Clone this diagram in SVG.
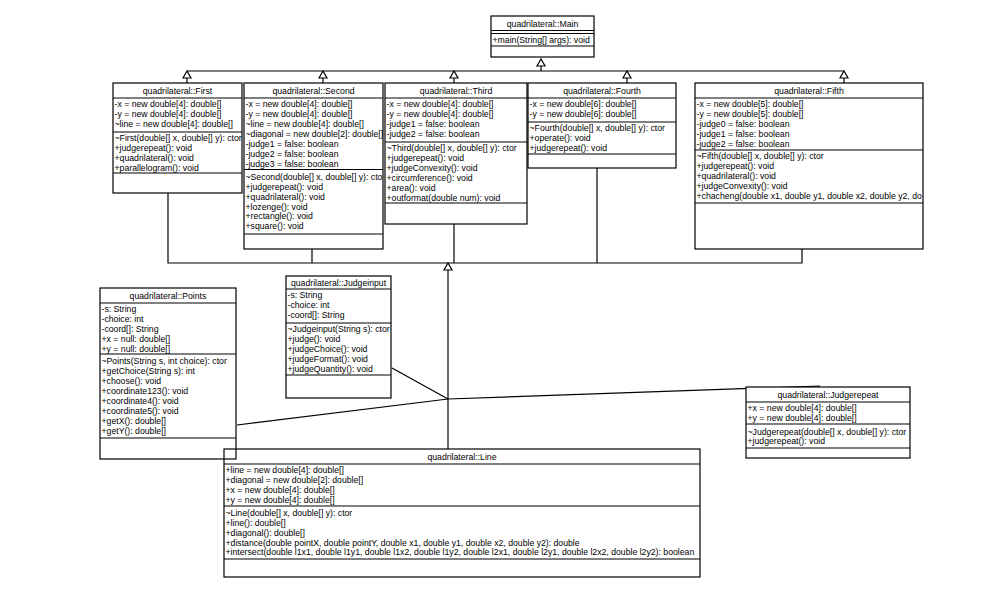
<svg xmlns="http://www.w3.org/2000/svg" width="1002" height="589" viewBox="0 0 1002 589">
<style>
.b{fill:#fff;stroke:#000;stroke-width:1.2}
.bn{fill:none;stroke:#000;stroke-width:1.2}
.d{stroke:#000;stroke-width:1.2}
text{font-family:"Liberation Sans",Arial,sans-serif;font-size:8.7px;fill:#000}
.t{text-anchor:middle}
.c{fill:none;stroke:#000;stroke-width:1.2}
.tri{fill:#fff;stroke:#000;stroke-width:1.2}
</style>
<defs>
<clipPath id="cFirst"><rect x="113" y="83" width="129" height="110"/></clipPath>
<clipPath id="cSecond"><rect x="244" y="83" width="139" height="166"/></clipPath>
<clipPath id="cFifth"><rect x="695" y="83" width="228" height="166"/></clipPath>
<clipPath id="cJudgeinput"><rect x="286" y="276" width="105" height="122"/></clipPath>
</defs>
<rect width="1002" height="589" fill="#fff"/>

<g id="connectors">
<line class="c" x1="187" y1="71" x2="844" y2="71"/>
<line class="c" x1="541" y1="66" x2="541" y2="71"/>
<polygon class="tri" points="541,59 537,66 545,66"/>
<line class="c" x1="187" y1="78" x2="187" y2="83"/>
<polygon class="tri" points="187,71 183,78 191,78"/>
<line class="c" x1="323" y1="78" x2="323" y2="83"/>
<polygon class="tri" points="323,71 319,78 327,78"/>
<line class="c" x1="454" y1="78" x2="454" y2="83"/>
<polygon class="tri" points="454,71 450,78 458,78"/>
<line class="c" x1="627" y1="78" x2="627" y2="83"/>
<polygon class="tri" points="627,71 623,78 631,78"/>
<line class="c" x1="844" y1="78" x2="844" y2="83"/>
<polygon class="tri" points="844,71 840,78 848,78"/>

<polyline class="c" points="168,193 168,263 802,263 802,249"/>
<line class="c" x1="312" y1="249" x2="312" y2="263"/>
<line class="c" x1="454" y1="224" x2="454" y2="263"/>
<line class="c" x1="597" y1="168" x2="597" y2="263"/>
<line class="c" x1="448" y1="270" x2="448" y2="449"/>
<polygon class="tri" points="448,263 444,270 452,270"/>

<line class="c" x1="392" y1="368" x2="448" y2="399"/>
<line class="c" x1="237" y1="425" x2="448" y2="399"/>
<line class="c" x1="448" y1="399" x2="820" y2="386"/>
</g>

<g id="Main">
<rect class="b" x="491" y="16" width="103" height="41"/>
<line class="d" x1="491" y1="30.5" x2="594" y2="30.5"/>
<line class="d" x1="491" y1="33.5" x2="594" y2="33.5"/>
<line class="d" x1="491" y1="46" x2="594" y2="46"/>
<text class="t" x="542.5" y="26.5">quadrilateral::Main</text>
<text x="492.5" y="42.5">+main(String[] args): void</text>
</g>

<g id="First">
<rect class="b" x="113" y="83" width="129" height="110"/>
<line class="d" x1="113" y1="98" x2="242" y2="98"/>
<line class="d" x1="113" y1="132" x2="242" y2="132"/>
<line class="d" x1="113" y1="173" x2="242" y2="173"/>
<text class="t" x="177.5" y="93.5">quadrilateral::First</text>
<g clip-path="url(#cFirst)">
<text x="114.5" y="107">-x = new double[4]: double[]</text>
<text x="114.5" y="117">-y = new double[4]: double[]</text>
<text x="114.5" y="127">~line = new double[4]: double[]</text>
<text x="114.5" y="141">~First(double[] x, double[] y): ctor</text>
<text x="114.5" y="151">+judgerepeat(): void</text>
<text x="114.5" y="161">+quadrilateral(): void</text>
<text x="114.5" y="171">+parallelogram(): void</text>
</g>
</g>

<g id="Second">
<rect class="b" x="244" y="83" width="139" height="166"/>
<line class="d" x1="244" y1="98" x2="383" y2="98"/>
<line class="d" x1="244" y1="169.5" x2="383" y2="169.5"/>
<line class="d" x1="244" y1="234" x2="383" y2="234"/>
<text class="t" x="313.5" y="93.5">quadrilateral::Second</text>
<g clip-path="url(#cSecond)">
<text x="245.5" y="107">-x = new double[4]: double[]</text>
<text x="245.5" y="117">-y = new double[4]: double[]</text>
<text x="245.5" y="127">~line = new double[4]: double[]</text>
<text x="245.5" y="137">~diagonal = new double[2]: double[]</text>
<text x="245.5" y="147">-judge1 = false: boolean</text>
<text x="245.5" y="157">-judge2 = false: boolean</text>
<text x="245.5" y="167">-judge3 = false: boolean</text>
<text x="245.5" y="180">~Second(double[] x, double[] y): ctor</text>
<text x="245.5" y="190">+judgerepeat(): void</text>
<text x="245.5" y="199.5">+quadrilateral(): void</text>
<text x="245.5" y="209.5">+lozenge(): void</text>
<text x="245.5" y="219">+rectangle(): void</text>
<text x="245.5" y="229">+square(): void</text>
</g>
</g>

<g id="Third">
<rect class="b" x="385" y="83" width="142" height="141"/>
<line class="d" x1="385" y1="98" x2="527" y2="98"/>
<line class="d" x1="385" y1="142" x2="527" y2="142"/>
<line class="d" x1="385" y1="203" x2="527" y2="203"/>
<text class="t" x="456" y="93.5">quadrilateral::Third</text>
<text x="386.5" y="107">-x = new double[4]: double[]</text>
<text x="386.5" y="117">-y = new double[4]: double[]</text>
<text x="386.5" y="127">-judge1 = false: boolean</text>
<text x="386.5" y="137">-judge2 = false: boolean</text>
<text x="386.5" y="151">~Third(double[] x, double[] y): ctor</text>
<text x="386.5" y="161">+judgerepeat(): void</text>
<text x="386.5" y="171">+judgeConvexity(): void</text>
<text x="386.5" y="181">+circumference(): void</text>
<text x="386.5" y="191">+area(): void</text>
<text x="386.5" y="200.5">+outformat(double num): void</text>
</g>

<g id="Fourth">
<rect class="b" x="528" y="83" width="148" height="85"/>
<line class="d" x1="528" y1="98" x2="676" y2="98"/>
<line class="d" x1="528" y1="122" x2="676" y2="122"/>
<line class="d" x1="528" y1="154" x2="676" y2="154"/>
<text class="t" x="602" y="93.5">quadrilateral::Fourth</text>
<text x="529.5" y="107">-x = new double[6]: double[]</text>
<text x="529.5" y="117">-y = new double[6]: double[]</text>
<text x="529.5" y="131">~Fourth(double[] x, double[] y): ctor</text>
<text x="529.5" y="141">+operate(): void</text>
<text x="529.5" y="151">+judgerepeat(): void</text>
</g>

<g id="Fifth">
<rect class="b" x="695" y="83" width="228" height="166"/>
<line class="d" x1="695" y1="98" x2="923" y2="98"/>
<line class="d" x1="695" y1="150" x2="923" y2="150"/>
<line class="d" x1="695" y1="203" x2="923" y2="203"/>
<text class="t" x="809" y="93.5">quadrilateral::Fifth</text>
<g clip-path="url(#cFifth)">
<text x="696.5" y="107">-x = new double[5]: double[]</text>
<text x="696.5" y="117">-y = new double[5]: double[]</text>
<text x="696.5" y="127">-judge0 = false: boolean</text>
<text x="696.5" y="137">-judge1 = false: boolean</text>
<text x="696.5" y="147">-judge2 = false: boolean</text>
<text x="696.5" y="159">~Fifth(double[] x, double[] y): ctor</text>
<text x="696.5" y="169">+judgerepeat(): void</text>
<text x="696.5" y="179">+quadrilateral(): void</text>
<text x="696.5" y="189">+judgeConvexity(): void</text>
<text x="696.5" y="199">+chacheng(double x1, double y1, double x2, double y2, do</text>
</g>
</g>

<g id="Judgeinput">
<rect class="b" x="286" y="276" width="105" height="122"/>
<line class="d" x1="286" y1="289" x2="391" y2="289"/>
<line class="d" x1="286" y1="323" x2="391" y2="323"/>
<line class="d" x1="286" y1="375" x2="391" y2="375"/>
<text class="t" x="338.5" y="286">quadrilateral::Judgeinput</text>
<g clip-path="url(#cJudgeinput)">
<text x="287.5" y="298">-s: String</text>
<text x="287.5" y="308">-choice: int</text>
<text x="287.5" y="318">-coord[]: String</text>
<text x="287.5" y="332">~Judgeinput(String s): ctor</text>
<text x="287.5" y="342">+judge(): void</text>
<text x="287.5" y="352">+judgeChoice(): void</text>
<text x="287.5" y="362">+judgeFormat(): void</text>
<text x="287.5" y="372">+judgeQuantity(): void</text>
</g>
</g>

<g id="Points">
<rect class="b" x="100" y="288" width="136" height="171"/>
<line class="d" x1="100" y1="303" x2="236" y2="303"/>
<line class="d" x1="100" y1="354" x2="236" y2="354"/>
<line class="d" x1="100" y1="438" x2="236" y2="438"/>
<text class="t" x="168" y="298.5">quadrilateral::Points</text>
<text x="101.5" y="312">-s: String</text>
<text x="101.5" y="322">-choice: int</text>
<text x="101.5" y="332">-coord[]: String</text>
<text x="101.5" y="342">+x = null: double[]</text>
<text x="101.5" y="352">+y = null: double[]</text>
<text x="101.5" y="364">~Points(String s, int choice): ctor</text>
<text x="101.5" y="374">+getChoice(String s): int</text>
<text x="101.5" y="384">+choose(): void</text>
<text x="101.5" y="394">+coordinate123(): void</text>
<text x="101.5" y="404">+coordinate4(): void</text>
<text x="101.5" y="414">+coordinate5(): void</text>
<text x="101.5" y="424">+getX(): double[]</text>
<text x="101.5" y="434">+getY(): double[]</text>
</g>

<g id="Line">
<rect class="bn" x="224" y="449" width="476" height="128"/>
<line class="d" x1="224" y1="464" x2="700" y2="464"/>
<line class="d" x1="224" y1="506" x2="700" y2="506"/>
<line class="d" x1="224" y1="559" x2="700" y2="559"/>
<text class="t" x="462" y="459.5">quadrilateral::Line</text>
<text x="225.5" y="473">+line = new double[4]: double[]</text>
<text x="225.5" y="483">+diagonal = new double[2]: double[]</text>
<text x="225.5" y="493">+x = new double[4]: double[]</text>
<text x="225.5" y="503">+y = new double[4]: double[]</text>
<text x="225.5" y="516">~Line(double[] x, double[] y): ctor</text>
<text x="225.5" y="526">+line(): double[]</text>
<text x="225.5" y="536">+diagonal(): double[]</text>
<text x="225.5" y="545.5">+distance(double pointX, double pointY, double x1, double y1, double x2, double y2): double</text>
<text x="225.5" y="555">+intersect(double l1x1, double l1y1, double l1x2, double l1y2, double l2x1, double l2y1, double l2x2, double l2y2): boolean</text>
</g>

<g id="Judgerepeat">
<rect class="b" x="746" y="387" width="164" height="71"/>
<line class="d" x1="746" y1="402" x2="910" y2="402"/>
<line class="d" x1="746" y1="424" x2="910" y2="424"/>
<line class="d" x1="746" y1="448" x2="910" y2="448"/>
<text class="t" x="828" y="397.5">quadrilateral::Judgerepeat</text>
<text x="747.5" y="411">+x = new double[4]: double[]</text>
<text x="747.5" y="421">+y = new double[4]: double[]</text>
<text x="747.5" y="434.5">~Judgerepeat(double[] x, double[] y): ctor</text>
<text x="747.5" y="444">+judgerepeat(): void</text>
</g>
</svg>
